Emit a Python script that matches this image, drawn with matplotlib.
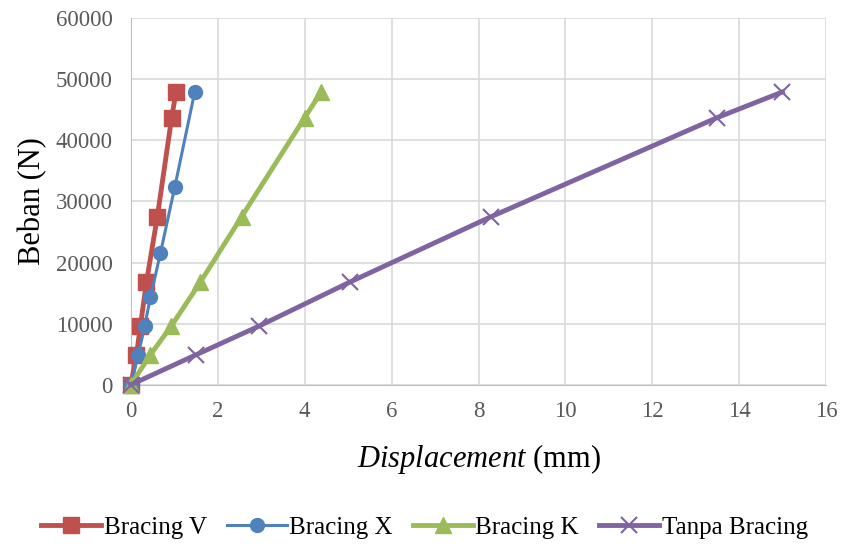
import matplotlib.pyplot as plt

plt.rcParams['font.family'] = 'Liberation Serif'
plt.rcParams['mathtext.fontset'] = 'custom'
plt.rcParams['mathtext.rm'] = 'Liberation Serif'
plt.rcParams['mathtext.it'] = 'Liberation Serif:italic'

# data
load_v = [0, 4900, 9600, 16800, 27500, 43700, 47900]
disp_v = [0, 0.13, 0.22, 0.36, 0.61, 0.94, 1.04]

load_x = [0, 4900, 9600, 14300, 21500, 32300, 47900]
disp_x = [0, 0.17, 0.32, 0.45, 0.68, 1.01, 1.47]

load_k = [0, 4900, 9600, 16800, 27500, 43700, 47900]
disp_k = [0, 0.45, 0.93, 1.6, 2.55, 4.0, 4.38]

load_t = [0, 4900, 9600, 16800, 27500, 43700, 47900]
disp_t = [0, 1.5, 2.95, 5.04, 8.29, 13.49, 14.99]

fig, ax = plt.subplots(figsize=(8.44, 5.45), dpi=100)
fig.subplots_adjust(left=0.155, right=0.979, top=0.967, bottom=0.294)

ax.plot(disp_v, load_v, color='#C0504D', lw=3.5, marker='s', ms=12, label='Bracing V',
        clip_on=False, zorder=3)
ax.plot(disp_x, load_x, color='#4F81BD', lw=2.2, marker='o', ms=10, label='Bracing X',
        clip_on=False, zorder=4)
ax.plot(disp_k, load_k, color='#9BBB59', lw=3.5, marker='^', ms=12, label='Bracing K',
        clip_on=False, zorder=5)
ax.plot(disp_t, load_t, color='#8064A2', lw=3.5, marker='x', ms=11, mew=1.5,
        label='Tanpa Bracing', clip_on=False, zorder=6)

ax.set_xlim(0, 16)
ax.set_ylim(0, 60000)
ax.set_xticks(range(0, 17, 2))
ax.set_yticks(range(0, 60001, 10000))
ax.grid(True, color='#D9D9D9', lw=1.2)
ax.set_axisbelow(True)
for s in ['top', 'right']:
    ax.spines[s].set_visible(False)
for s in ['left', 'bottom']:
    ax.spines[s].set_color('#BFBFBF')
ax.tick_params(length=0, labelsize=16.5, colors='#595959')
ax.tick_params(axis='y', pad=13)
ax.tick_params(axis='x', pad=12)

ax.set_ylabel('Beban (N)', fontsize=22, labelpad=6)
ax.set_xlabel(r'$Displacement$ (mm)', fontsize=22, labelpad=14)

fig.legend(*ax.get_legend_handles_labels(), loc='center', bbox_to_anchor=(0.503, 0.032),
           ncol=4, frameon=False, fontsize=18, handlelength=2.4, columnspacing=0.8,
           handletextpad=0.1)

fig.savefig('out.png')
